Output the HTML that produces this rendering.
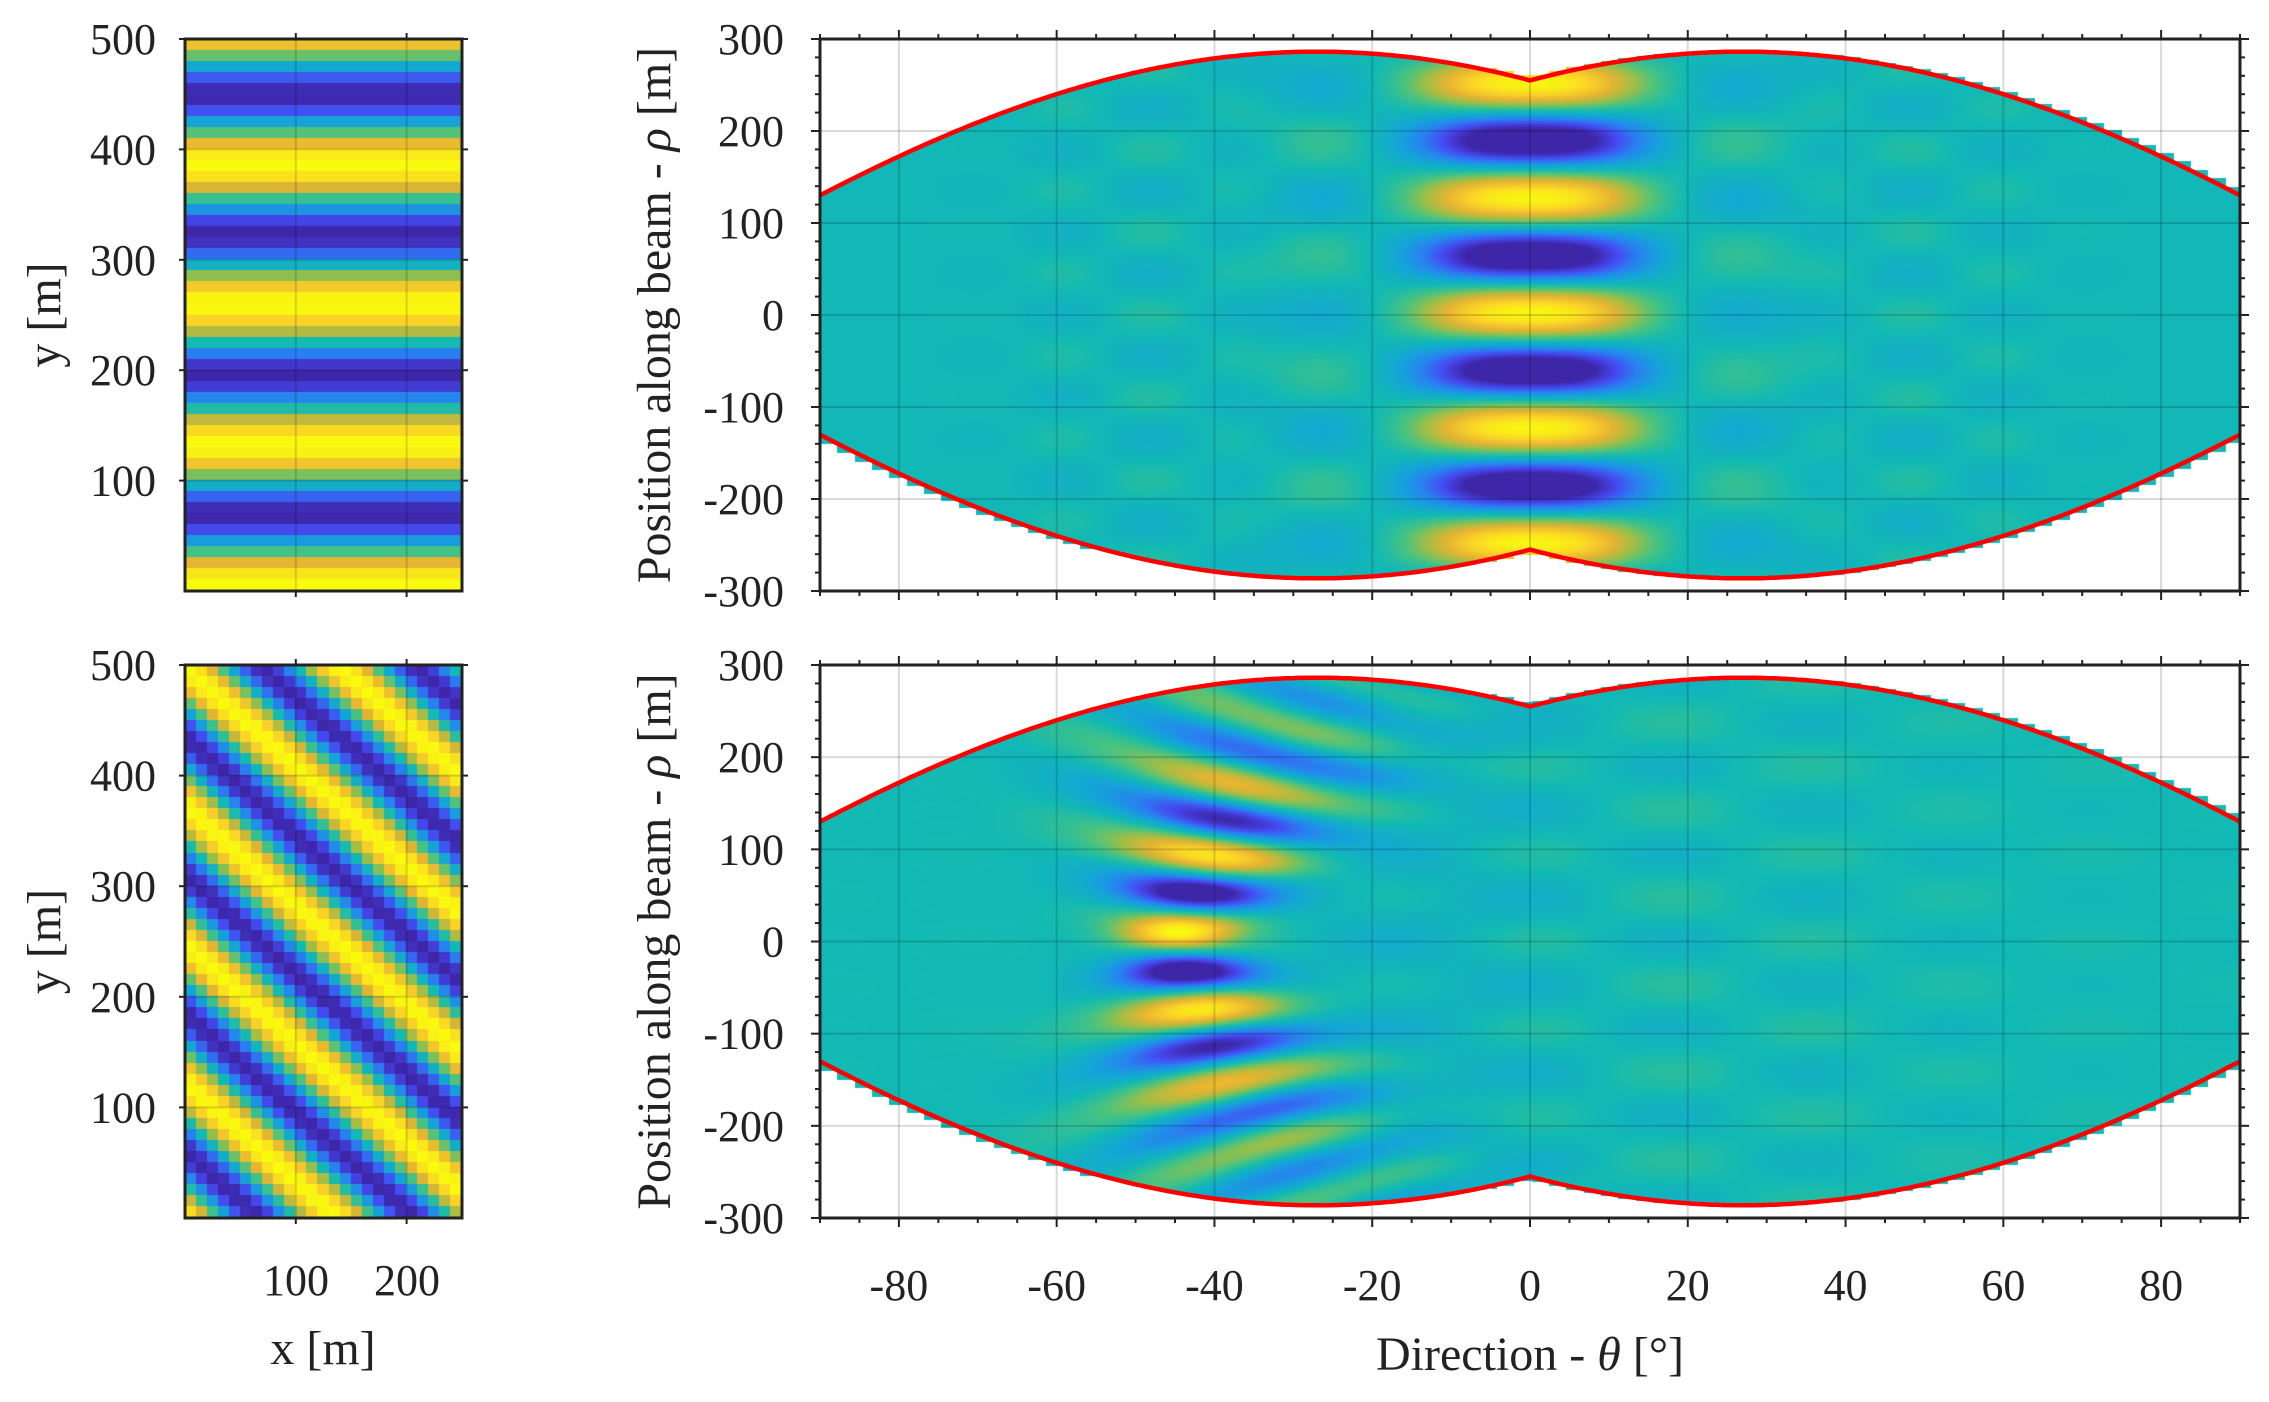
<!DOCTYPE html>
<html><head><meta charset="utf-8">
<style>
html,body{margin:0;padding:0;background:#fff;}
#wrap{position:relative;width:2269px;height:1402px;overflow:hidden;}
canvas{position:absolute;}
svg{position:absolute;left:0;top:0;}
text{font-family:"Liberation Serif",serif;fill:#222;}
</style></head><body>
<div id="wrap">
<canvas id="tl" width="277" height="552" style="left:185px;top:39px"></canvas>
<canvas id="bl" width="277" height="553" style="left:185px;top:665px"></canvas>
<canvas id="tr" width="1420" height="552" style="left:820px;top:39px"></canvas>
<canvas id="br" width="1420" height="553" style="left:820px;top:665px"></canvas>
<svg id="ov" width="2269" height="1402" viewBox="0 0 2269 1402"></svg>
</div>
<script>
var P=[[0,62,38,168],[0.11,69,74,240],[0.22,40,130,240],[0.33,20,165,215],[0.44,18,185,180],[0.55,70,195,130],[0.66,160,190,70],[0.77,230,180,50],[0.88,250,210,40],[1,249,251,14]];
function cmap(v){v=Math.max(0,Math.min(1,v));for(var i=1;i<P.length;i++){if(v<=P[i][0]){var a=P[i-1],b=P[i],t=(v-a[0])/(b[0]-a[0]);return[a[1]+(b[1]-a[1])*t,a[2]+(b[2]-a[2])*t,a[3]+(b[3]-a[3])*t];}}return[249,251,14];}
function rmax(th){var r=th*Math.PI/180;return 255*Math.abs(Math.cos(r))+130*Math.abs(Math.sin(r));}
function fillb(th,top){var stair=top?(th>-5):(th>-5||th<-55);
 if(!stair)return rmax(th)+1;
 var c=Math.floor((th+90)/2.2)*2.2-90;var c2=c+2.2;return Math.max(rmax(th),rmax(c)+1,rmax(c2)+1);}
function left(id,f){var c=document.getElementById(id),g=c.getContext('2d'),w=c.width,h=c.height;
 for(var i=0;i<25;i++)for(var j=0;j<50;j++){var x=i*10+5,y=500-(j*10+5);var col=cmap(f(x,y));
 g.fillStyle='rgb('+(col[0]|0)+','+(col[1]|0)+','+(col[2]|0)+')';
 var x0=Math.floor(i*w/25),x1=Math.floor((i+1)*w/25),y0=Math.floor(j*h/50),y1=Math.floor((j+1)*h/50);g.fillRect(x0,y0,x1-x0+1,y1-y0+1);}}
left('tl',function(x,y){return 0.5+0.5*Math.cos(2*Math.PI*(y-5)/127);});
left('bl',function(x,y){return 0.5+0.5*Math.cos(2*Math.PI*((x-5)/140+(y-493)/125));});
function right(id,f){var c=document.getElementById(id),g=c.getContext('2d'),w=c.width,h=c.height;var im=g.createImageData(w,h),d=im.data;
 for(var px=0;px<w;px++){var th=-90+180*(px+0.5)/w;var fu=fillb(th,true),fd=fillb(th,false);
  for(var py=0;py<h;py++){var rho=300-600*(py+0.5)/h;var k=(py*w+px)*4;
   if(rho>fu||-rho>fd){d[k+3]=0;continue;}
   var col=cmap(f(th,rho));d[k]=col[0];d[k+1]=col[1];d[k+2]=col[2];d[k+3]=255;}}
 g.putImageData(im,0,0);}
right('tr',function(th,rho){
 var e=Math.exp(-Math.pow(Math.abs(th)/14,2.6));
 var v=0.43+0.55*e*Math.cos(2*Math.PI*(rho-2)/125);
 var s=Math.exp(-Math.pow(Math.abs(th)-26,2)/(2*5*5));
 v-=0.08*s*Math.cos(2*Math.PI*rho/125);
 v+=0.05*Math.cos(2*Math.PI*rho/90)*Math.cos(th*Math.PI/12)*Math.exp(-Math.pow(Math.abs(th)-50,2)/300);
 return v;});
right('br',function(th,rho){
 var a=Math.abs(rho);var sg=5+0.04*a;var sh=0.04*a;
 var s=1+0.012*(th+45);
 var A=Math.exp(-Math.pow(th+45-sh,2)/(2*sg*sg))*Math.exp(-rho*rho/(2*170*170));
 var v=0.44+0.56*A*Math.cos(2*Math.PI*(rho*s-11)/88);
 v+=0.05*Math.cos(2*Math.PI*rho/95)*Math.cos(th*Math.PI/18)*Math.exp(-Math.pow(th-10,2)/(2*40*40));
 v-=0.03*Math.exp(-Math.pow(th+15,2)/300);
 return v;});
var S='';
function L(x1,y1,x2,y2,c,w){S+='<line x1="'+x1+'" y1="'+y1+'" x2="'+x2+'" y2="'+y2+'" stroke="'+c+'" stroke-width="'+w+'"/>';}
function T(x,y,t,anc,fs,extra){S+='<text x="'+x+'" y="'+y+'" font-size="'+(fs||44)+'" text-anchor="'+(anc||'middle')+'" '+(extra||'')+'>'+t+'</text>';}
var GC='rgba(0,0,0,0.15)';
[[39,591],[665,1218]].forEach(function(p,idx){
 var t=p[0],b=p[1],l=185,r=462,h=b-t;
 function Y(v){return b-v/500*h;} function X(v){return l+v/250*(r-l);}
 [100,200].forEach(function(v){L(X(v),t,X(v),b,GC,2);L(X(v),b,X(v),b+6,'#222',2);L(X(v),t,X(v),t-6,'#222',2);});
 [100,200,300,400,500].forEach(function(v){L(l,Y(v),r,Y(v),GC,2);L(l-6,Y(v),l,Y(v),'#222',2);L(r,Y(v),r+6,Y(v),'#222',2);T(156,Y(v)+15,v,'end');});
 S+='<rect x="'+l+'" y="'+t+'" width="'+(r-l)+'" height="'+h+'" fill="none" stroke="#222" stroke-width="3"/>';
 S+='<text transform="translate(60,'+(t+h/2)+') rotate(-90)" font-size="48" text-anchor="middle">y [m]</text>';
});
T(296,1295,'100');T(407,1295,'200');T(323,1364,'x [m]','middle',48);
[[39,591],[665,1218]].forEach(function(p){
 var t=p[0],b=p[1],l=820,r=2240,h=b-t;
 function X(th){return 1530+th*(r-l)/180;} function Y(rho){return (t+b)/2-rho*h/600;}
 for(var th=-80;th<=80;th+=20){L(X(th),t,X(th),b,GC,2);}
 for(var rho=-200;rho<=200;rho+=100){L(l,Y(rho),r,Y(rho),GC,2);}
 for(var th=-90;th<=90;th+=5){var m=(th%20==0)?9:5;L(X(th),t,X(th),t-m,'#222',2);L(X(th),b,X(th),b+m,'#222',2);}
 for(var rho=-300;rho<=300;rho+=20){var m=(rho%100==0)?9:5;L(l-m,Y(rho),l,Y(rho),'#222',2);L(r,Y(rho),r+m,Y(rho),'#222',2);}
 for(var rho=-300;rho<=300;rho+=100){T(784,Y(rho)+15,rho,'end');}
 var up='',dn='';
 for(var th=-90;th<=90.001;th+=0.5){var rm=rmax(th);up+=(th==-90?'M':'L')+X(th).toFixed(1)+','+Y(rm).toFixed(1);dn+=(th==-90?'M':'L')+X(th).toFixed(1)+','+Y(-rm).toFixed(1);}
 S+='<path d="'+up+'" fill="none" stroke="#ff0000" stroke-width="4.5"/><path d="'+dn+'" fill="none" stroke="#ff0000" stroke-width="4.5"/>';
 S+='<rect x="'+l+'" y="'+t+'" width="'+(r-l)+'" height="'+h+'" fill="none" stroke="#222" stroke-width="3"/>';
 S+='<text transform="translate(670,'+(t+h/2)+') rotate(-90)" font-size="48" text-anchor="middle">Position along beam - <tspan font-style="italic">ρ</tspan> [m]</text>';
});
for(var th=-80;th<=80;th+=20){T(1530+th*1420/180,1300,th,'middle');}
S+='<text x="1530" y="1370" font-size="48" text-anchor="middle">Direction - <tspan font-style="italic">θ</tspan> [°]</text>';
document.getElementById('ov').innerHTML=S;
</script>
</body></html>
